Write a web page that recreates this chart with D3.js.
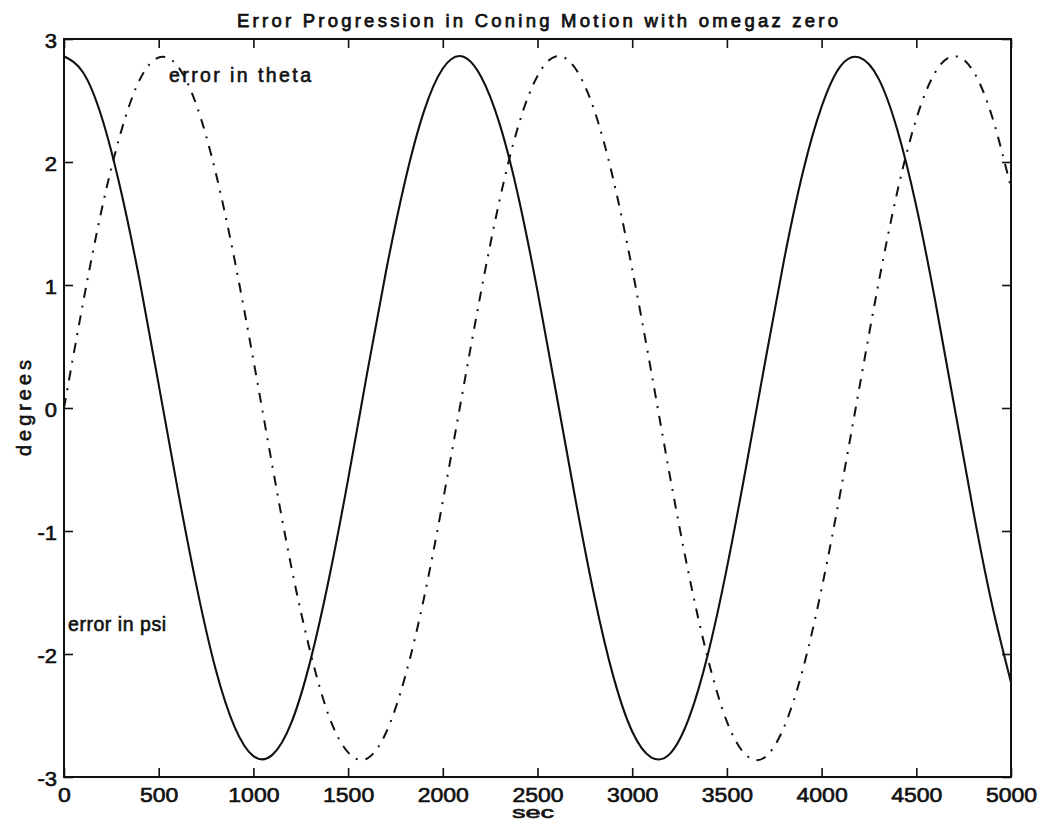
<!DOCTYPE html>
<html>
<head>
<meta charset="utf-8">
<script src="https://cdn.jsdelivr.net/npm/d3@7"></script>
<style>
  html, body { margin: 0; padding: 0; background: #fff; }
  svg text { font-family: "Liberation Sans", Arial, Helvetica, sans-serif; fill: #111; stroke: #111; stroke-width: 0.6px; }
</style>
</head>
<body>
<svg id="chart" width="1044" height="823"></svg>
<script>
// Sample times (s), every 100 s
const timeSec = d3.range(0, 5001, 100);

// Error in psi (degrees) at each sample time
const errorPsi = [
  2.86, 2.73, 2.36, 1.77, 1.03, 0.19, -0.66, -1.45, -2.12, -2.59,
  -2.83, -2.82, -2.56, -2.06, -1.38, -0.58, 0.28, 1.11, 1.84, 2.41,
  2.76, 2.86, 2.70, 2.31, 1.71, 0.95, 0.11, -0.74, -1.53, -2.18,
  -2.63, -2.84, -2.81, -2.52, -2.00, -1.30, -0.49, 0.36, 1.19, 1.91,
  2.45, 2.78, 2.85, 2.68, 2.26, 1.64, 0.87, 0.02, -0.83, -1.60,
  -2.23
];

// Error in theta (degrees) at each sample time
const errorTheta = [
  0.00, 0.85, 1.62, 2.24, 2.67, 2.85, 2.78, 2.46, 1.92, 1.21,
  0.39, -0.47, -1.29, -1.98, -2.51, -2.80, -2.85, -2.64, -2.19, -1.55,
  -0.76, 0.09, 0.93, 1.69, 2.30, 2.70, 2.86, 2.76, 2.42, 1.86,
  1.13, 0.30, -0.56, -1.36, -2.04, -2.55, -2.82, -2.84, -2.60, -2.13,
  -1.47, -0.68, 0.17, 1.01, 1.76, 2.35, 2.73, 2.86, 2.74, 2.37,
  1.79
];

const xTicks = [0, 500, 1000, 1500, 2000, 2500, 3000, 3500, 4000, 4500, 5000];
const yTicks = [-3, -2, -1, 0, 1, 2, 3];

const titleText = "Error Progression in Coning Motion with omegaz zero";
const xLabel = "sec";
const yLabel = "degrees";
const psiLabel = "error in psi";
const thetaLabel = "error in theta";

const svg = d3.select("#chart");
const plotLeft = 64, plotRight = 1011, plotTop = 39, plotBottom = 777;

const x = d3.scaleLinear().domain([0, 5000]).range([plotLeft, plotRight]);
const y = d3.scaleLinear().domain([-3, 3]).range([plotBottom, plotTop]);

const ink = "#111";
const tickLen = 9;
const plainNumber = d => String(d);   // ASCII hyphen for negatives

// Widen tick label glyphs a little (wide Helvetica look)
function widen(sel, factor) {
  sel.each(function () {
    const w = this.getComputedTextLength();
    d3.select(this).attr("textLength", w * factor).attr("lengthAdjust", "spacingAndGlyphs");
  });
}

// Curves
const line = vals => d3.line()
  .x((d, i) => x(timeSec[i]))
  .y(d => y(d))
  .curve(d3.curveNatural)(vals);

svg.append("path")
  .attr("d", line(errorTheta))
  .attr("fill", "none")
  .attr("stroke", ink)
  .attr("stroke-width", 2)
  .attr("stroke-dasharray", "10,8,2,8");

svg.append("path")
  .attr("d", line(errorPsi))
  .attr("fill", "none")
  .attr("stroke", ink)
  .attr("stroke-width", 2.1);

// Axes with inward ticks on all four sides
const axisBottom = d3.axisBottom(x).tickValues(xTicks).tickSizeInner(-tickLen).tickSizeOuter(0).tickFormat(plainNumber);
const axisTop = d3.axisTop(x).tickValues(xTicks).tickSizeInner(-tickLen).tickSizeOuter(0).tickFormat("");
const axisLeft = d3.axisLeft(y).tickValues(yTicks).tickSizeInner(-tickLen).tickSizeOuter(0).tickFormat(plainNumber);
const axisRight = d3.axisRight(y).tickValues(yTicks).tickSizeInner(-tickLen).tickSizeOuter(0).tickFormat("");

function styleAxis(g) {
  g.select(".domain").remove();
  g.selectAll(".tick line").attr("stroke", ink).attr("stroke-width", 1.6);
}

const gb = svg.append("g").attr("transform", `translate(0,${plotBottom})`).call(axisBottom).call(styleAxis);
gb.selectAll(".tick text")
  .attr("y", 0).attr("dy", null)
  .attr("transform", "translate(0,25)")
  .style("font-size", "20px")
  .style("font-family", "'Liberation Sans', Arial, sans-serif")
  .attr("fill", ink)
  .call(widen, 1.15);

svg.append("g").attr("transform", `translate(0,${plotTop})`).call(axisTop).call(styleAxis);

const gl = svg.append("g").attr("transform", `translate(${plotLeft},0)`).call(axisLeft).call(styleAxis);
gl.selectAll(".tick text")
  .attr("x", -7).attr("dy", "0.42em")
  .style("font-size", "20px")
  .style("font-family", "'Liberation Sans', Arial, sans-serif")
  .attr("fill", ink)
  .call(widen, 1.1);

svg.append("g").attr("transform", `translate(${plotRight},0)`).call(axisRight).call(styleAxis);

// Frame
svg.append("rect")
  .attr("x", plotLeft).attr("y", plotTop)
  .attr("width", plotRight - plotLeft).attr("height", plotBottom - plotTop)
  .attr("fill", "none").attr("stroke", ink).attr("stroke-width", 2);

// Texts
svg.append("text")
  .attr("x", 237).attr("y", 27)
  .attr("textLength", 601).attr("lengthAdjust", "spacing")
  .style("font-size", "18.5px")
  .style("stroke-width", "0.75px")
  .text(titleText);

svg.append("text")
  .attr("x", 512).attr("y", 818)
  .attr("textLength", 42).attr("lengthAdjust", "spacingAndGlyphs")
  .style("font-size", "16px")
  .text(xLabel);

svg.append("text")
  .attr("transform", "translate(31,456) rotate(-90)")
  .attr("textLength", 96).attr("lengthAdjust", "spacing")
  .style("font-size", "20px")
  .text(yLabel);

svg.append("text")
  .attr("x", 169).attr("y", 82)
  .attr("textLength", 142).attr("lengthAdjust", "spacing")
  .style("font-size", "19.5px")
  .text(thetaLabel);

svg.append("text")
  .attr("x", 68).attr("y", 631)
  .attr("textLength", 98).attr("lengthAdjust", "spacing")
  .style("font-size", "19.5px")
  .text(psiLabel);
</script>
</body>
</html>
